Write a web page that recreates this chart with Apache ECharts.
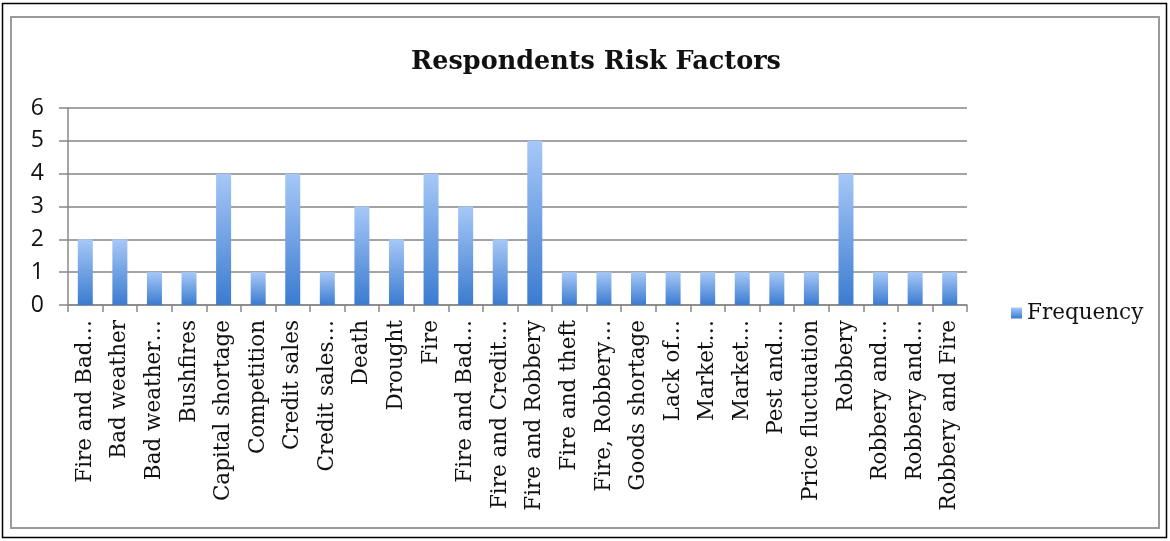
<!DOCTYPE html>
<html>
<head>
<meta charset="utf-8">
<style>
  html, body { margin: 0; padding: 0; background: #fff; }
  #chart { width: 1170px; height: 541px; }
</style>
<script src="https://cdn.jsdelivr.net/npm/echarts@6/dist/echarts.min.js"></script>
</head>
<body>
<div id="chart"></div>
<script>
// Respondents risk factors — frequency per category
const categories = [
  'Fire and Bad…', 'Bad weather', 'Bad weather…', 'Bushfires', 'Capital shortage',
  'Competition', 'Credit sales', 'Credit sales…', 'Death', 'Drought',
  'Fire', 'Fire and Bad…', 'Fire and Credit…', 'Fire and Robbery', 'Fire and theft',
  'Fire, Robbery…', 'Goods shortage', 'Lack of…', 'Market…', 'Market…',
  'Pest and…', 'Price fluctuation', 'Robbery', 'Robbery and…', 'Robbery and…',
  'Robbery and Fire'
];
const frequency = [2, 2, 1, 1, 4, 1, 4, 1, 3, 2, 4, 3, 2, 5, 1, 1, 1, 1, 1, 1, 1, 1, 4, 1, 1, 1];
const yTicks = [0, 1, 2, 3, 4, 5, 6];

const SERIF = '"DejaVu Serif", "Liberation Serif", serif';
const SANS = '"Open Sans", "Liberation Sans", sans-serif';

const barFill = new echarts.graphic.LinearGradient(0, 0, 0, 1, [
  { offset: 0, color: '#a6c8f7' },
  { offset: 1, color: '#3b7bd0' },
]);

const chart = echarts.init(document.getElementById('chart'), null, { renderer: 'canvas' });
chart.setOption({
  animation: false,
  graphic: [
    { type: 'rect', shape: { x: 2.5, y: 3.5, width: 1164, height: 534 }, style: { fill: 'none', stroke: '#000', lineWidth: 1.5 } },
    { type: 'rect', shape: { x: 11, y: 17, width: 1148, height: 511 }, style: { fill: 'none', stroke: '#9a9a9a', lineWidth: 2 } },
  ],
  title: {
    text: 'Respondents Risk Factors',
    left: 591,
    top: 44,
    textAlign: 'center',
    textStyle: { fontFamily: SERIF, fontWeight: 'bold', fontSize: 25.5, color: '#111' },
  },
  legend: {
    left: 1006,
    top: 297,
    icon: 'rect',
    itemWidth: 11,
    itemHeight: 11,
    itemGap: 4,
    textStyle: { fontFamily: SERIF, fontSize: 21.5, color: '#111' },
  },
  grid: { left: 68, right: 203, top: 108, bottom: 236, containLabel: false },
  xAxis: {
    type: 'category',
    data: categories,
    axisLine: { lineStyle: { color: '#888', width: 1.5 } },
    axisTick: { show: true, length: 7, lineStyle: { color: '#888', width: 1.5 } },
    axisLabel: { rotate: 90, interval: 0, margin: 15, fontFamily: SERIF, fontSize: 21.5, color: '#111' },
  },
  yAxis: {
    type: 'value',
    min: 0,
    max: 6,
    interval: 1,
    axisLine: { show: true, lineStyle: { color: '#888', width: 1.5 } },
    axisTick: { show: true, length: 9, lineStyle: { color: '#888', width: 1.5 } },
    axisLabel: {
      fontFamily: SANS, fontSize: 23, color: '#111', margin: 24,
      formatter: (v) => (yTicks.includes(v) ? String(v) : ''),
    },
    splitLine: { lineStyle: { color: '#858585', width: 1.5 } },
  },
  series: [{
    name: 'Frequency',
    type: 'bar',
    data: frequency,
    barWidth: 15,
    itemStyle: { color: barFill },
  }],
});
</script>
</body>
</html>
